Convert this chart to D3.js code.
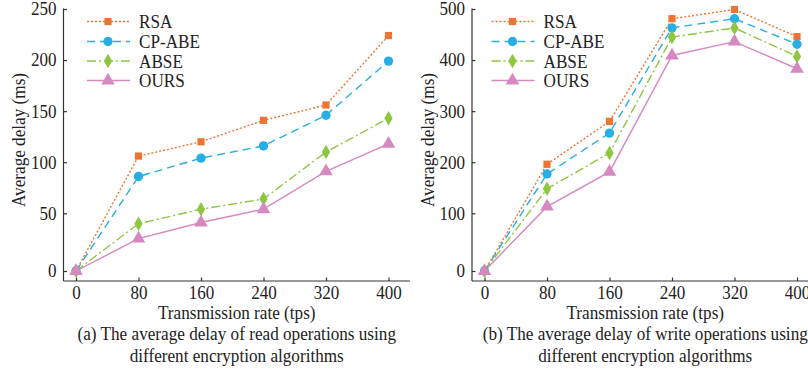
<!DOCTYPE html>
<html>
<head>
<meta charset="utf-8">
<script src="https://cdn.jsdelivr.net/npm/d3@7/dist/d3.min.js"></script>
<style>
  html, body { margin: 0; padding: 0; background: #fff; }
  svg text { font-family: "Liberation Serif", "Times New Roman", serif; fill: #222; }
</style>
</head>
<body>
<svg id="chart" width="808" height="370"></svg>
<script>
// Transmission rates (tps) on the x axis
const rates = [0, 80, 160, 240, 320, 400];
const seriesNames = ["RSA", "CP-ABE", "ABSE", "OURS"];

// (a) read operations, average delay in ms
const readRSA   = [0, 106, 120, 141, 156, 224];
const readCPABE = [0, 86, 104, 116, 146, 199];
const readABSE  = [0, 41, 54, 64, 110, 143];
const readOURS  = [0, 28, 42, 54, 91, 118];

// (b) write operations, average delay in ms
const writeRSA   = [0, 196, 280, 481, 499, 446];
const writeCPABE = [0, 177, 257, 463, 481, 431];
const writeABSE  = [0, 148, 218, 445, 463, 407];
const writeOURS  = [0, 113, 181, 409, 436, 383];

const readTicks  = [0, 50, 100, 150, 200, 250];
const writeTicks = [0, 100, 200, 300, 400, 500];

const colors  = ["#EF7431", "#27AEE4", "#8DC641", "#D688C0"];
const dashes  = ["2,2", "8,5", "9,3,2,3", null];
const symbols = [d3.symbolSquare, d3.symbolCircle, d3.symbolDiamond, d3.symbolTriangle];
const symSize = [52, 68, 60, 80];

const FONT = 19.5;
const TICK_FONT = 18.5;
const svg = d3.select("#chart");

function drawPanel(opts) {
  const g = svg.append("g").attr("transform", `translate(${opts.ox},0)`);
  const left = 63.5, right = 400, bottom = 281, top = 8.5;

  const x = d3.scaleLinear().domain([0, 400]).range([76, 388.5]);
  // the first interval is drawn a little taller than the rest
  const y = d3.scaleLinear()
    .domain([0, opts.ticks[1], opts.ticks[opts.ticks.length - 1]])
    .range([271, 213.3, 9]);

  // axes
  const yAxis = d3.axisLeft(y).tickValues(opts.ticks).tickSize(-3.5).tickPadding(7);
  const xAxis = d3.axisBottom(x).tickValues(rates).tickSize(-3.5).tickPadding(5);

  const ya = g.append("g").attr("transform", `translate(${left},0)`).call(yAxis);
  ya.select(".domain").attr("d", `M0,${top}V${bottom}`);
  const xa = g.append("g").attr("transform", `translate(0,${bottom})`).call(xAxis);
  xa.select(".domain").attr("d", `M${left},0H${right + 10}`);
  [ya, xa].forEach(a => {
    a.selectAll(".domain").attr("stroke", "#333").attr("stroke-width", 1.2);
    a.selectAll(".tick line").attr("stroke", "#333").attr("stroke-width", 1.2);
    a.selectAll("text").attr("font-size", TICK_FONT).attr("fill", "#222")
      .style("font-family", '"Liberation Serif", serif').classed("cond", true);
  });

  // series
  opts.series.forEach((vals, i) => {
    const pts = rates.map((r, k) => [x(r), y(vals[k])]);
    g.append("path")
      .attr("d", d3.line()(pts))
      .attr("fill", "none")
      .attr("stroke", colors[i])
      .attr("stroke-width", 1.4)
      .attr("stroke-dasharray", dashes[i]);
  });
  opts.series.forEach((vals, i) => {
    g.selectAll(null).data(rates).enter().append("path")
      .attr("d", d3.symbol().type(symbols[i]).size(symSize[i]))
      .attr("transform", (r, k) => `translate(${x(r)},${y(vals[k])})`)
      .attr("fill", colors[i]);
  });

  // legend
  const lg = g.append("g");
  const rowsY = [21.5, 41.5, 61, 80.5];
  seriesNames.forEach((name, i) => {
    const row = lg.append("g").attr("transform", `translate(0,${rowsY[i]})`);
    row.append("line").attr("x1", opts.lgx).attr("x2", opts.lgx + 43)
      .attr("stroke", colors[i]).attr("stroke-width", 1.4)
      .attr("stroke-dasharray", dashes[i]);
    row.append("path")
      .attr("d", d3.symbol().type(symbols[i]).size(symSize[i]))
      .attr("transform", `translate(${opts.lgx + 21},0)`)
      .attr("fill", colors[i]);
    row.append("text").attr("x", opts.lgx + 52).attr("y", 6.5)
      .attr("font-size", FONT).text(name).classed("cond", true);
  });

  // axis titles and caption
  const cx = (left + right + 10) / 2;
  g.append("text").attr("transform", `translate(${opts.ylx},140) rotate(-90)`)
    .attr("text-anchor", "middle").attr("font-size", FONT)
    .text("Average delay (ms)").classed("cond", true);
  g.append("text").attr("x", cx).attr("y", 319).attr("text-anchor", "middle")
    .attr("font-size", FONT).text("Transmission rate (tps)").classed("cond", true);
  g.append("text").attr("x", cx).attr("y", 340).attr("text-anchor", "middle")
    .attr("font-size", FONT).text(opts.caption).classed("cond", true);
  g.append("text").attr("x", cx).attr("y", 361.5).attr("text-anchor", "middle")
    .attr("font-size", FONT).text("different encryption algorithms").classed("cond", true);
}

drawPanel({
  ox: 0, ticks: readTicks, lgx: 87, ylx: 25,
  series: [readRSA, readCPABE, readABSE, readOURS],
  caption: "(a) The average delay of read operations using"
});
drawPanel({
  ox: 408.5, ticks: writeTicks, lgx: 83, ylx: 25,
  series: [writeRSA, writeCPABE, writeABSE, writeOURS],
  caption: "(b) The average delay of write operations using"
});

// narrow the serif glyphs horizontally
svg.selectAll("text.cond").each(function () {
  const size = +d3.select(this).attr("font-size");
  const factor = size === TICK_FONT ? 0.92 : 0.88;
  const w = this.getComputedTextLength();
  d3.select(this).attr("textLength", w * factor).attr("lengthAdjust", "spacingAndGlyphs");
});
</script>
</body>
</html>
